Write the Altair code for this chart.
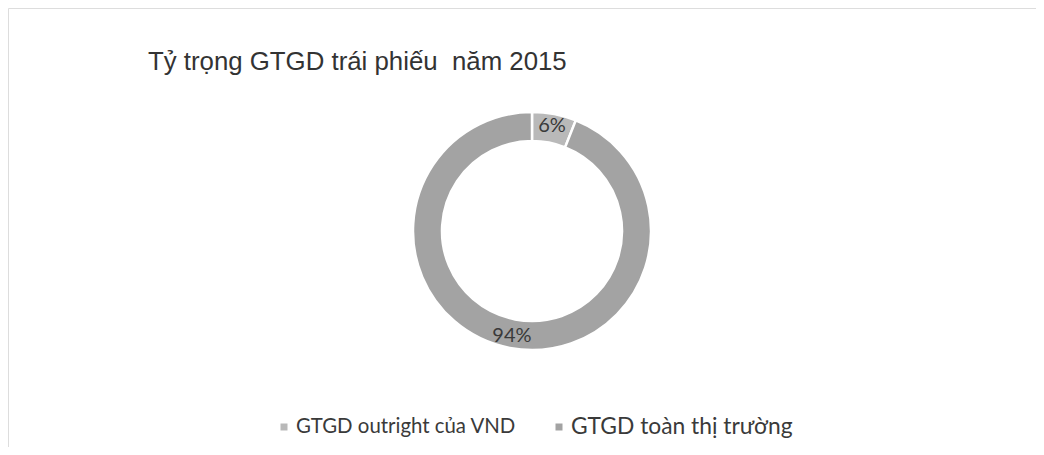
import altair as alt
import pandas as pd

categories = ["GTGD outright của VND", "GTGD toàn thị trường"]
shares = [6, 94]
labels = ["6%", "94%"]
colors = ["#b9b9b9", "#a3a3a3"]
title_text = "Tỷ trọng GTGD trái phiếu\u00a0 năm 2015"

df = pd.DataFrame({"cat": categories, "share": shares, "label": labels,
                   "order": list(range(len(categories)))})

CX, CY = 524, 223
R_OUT, R_IN = 119, 90

color_scale = alt.Scale(domain=categories, range=colors)

base = alt.Chart(df).encode(
    theta=alt.Theta("share:Q", stack=True),
    order=alt.Order("order:O"),
)

arcs = base.mark_arc(outerRadius=R_OUT, innerRadius=R_IN, stroke="white",
                     strokeWidth=2.5).encode(
    color=alt.Color("cat:N", scale=color_scale, legend=None),
    x=alt.value(CX), y=alt.value(CY),
)

texts = base.mark_text(radius=107, font="Lato", fontSize=20,
                       color="#3a3a3a").encode(
    text="label:N", x=alt.value(CX), y=alt.value(CY),
)

# manual legend (two items with different sizes, as in the reference)
leg1 = pd.DataFrame({"cat": [categories[0]]})
leg2 = pd.DataFrame({"cat": [categories[1]]})

sq1 = alt.Chart(leg1).mark_square(size=49, opacity=1).encode(
    x=alt.value(276), y=alt.value(419),
    color=alt.Color("cat:N", scale=color_scale, legend=None))
tx1 = alt.Chart(leg1).mark_text(align="left", baseline="middle", font="Lato",
                                fontSize=20.4, color="#3a3a3a").encode(
    x=alt.value(288), y=alt.value(419), text="cat:N")
sq2 = alt.Chart(leg2).mark_square(size=49, opacity=1).encode(
    x=alt.value(551), y=alt.value(419),
    color=alt.Color("cat:N", scale=color_scale, legend=None))
tx2 = alt.Chart(leg2).mark_text(align="left", baseline="middle", font="Lato",
                                fontSize=22.8, color="#3a3a3a").encode(
    x=alt.value(563), y=alt.value(419), text="cat:N")

chart = alt.layer(arcs, texts, sq1, tx1, sq2, tx2).properties(
    width=1028, height=439,
    autosize=alt.AutoSizeParams(type="none"),
    padding=0,
    title=alt.TitleParams(title_text, anchor="start", frame="group", orient="top",
                          offset=-88, dx=140, font="Liberation Sans",
                          fontSize=25.8, fontWeight="normal", color="#333333",
                          baseline="alphabetic"),
).configure_view(stroke="#dddddd", strokeWidth=1).configure(background="white")

chart.save("out.html", embed_options={"renderer": "svg", "actions": False})
